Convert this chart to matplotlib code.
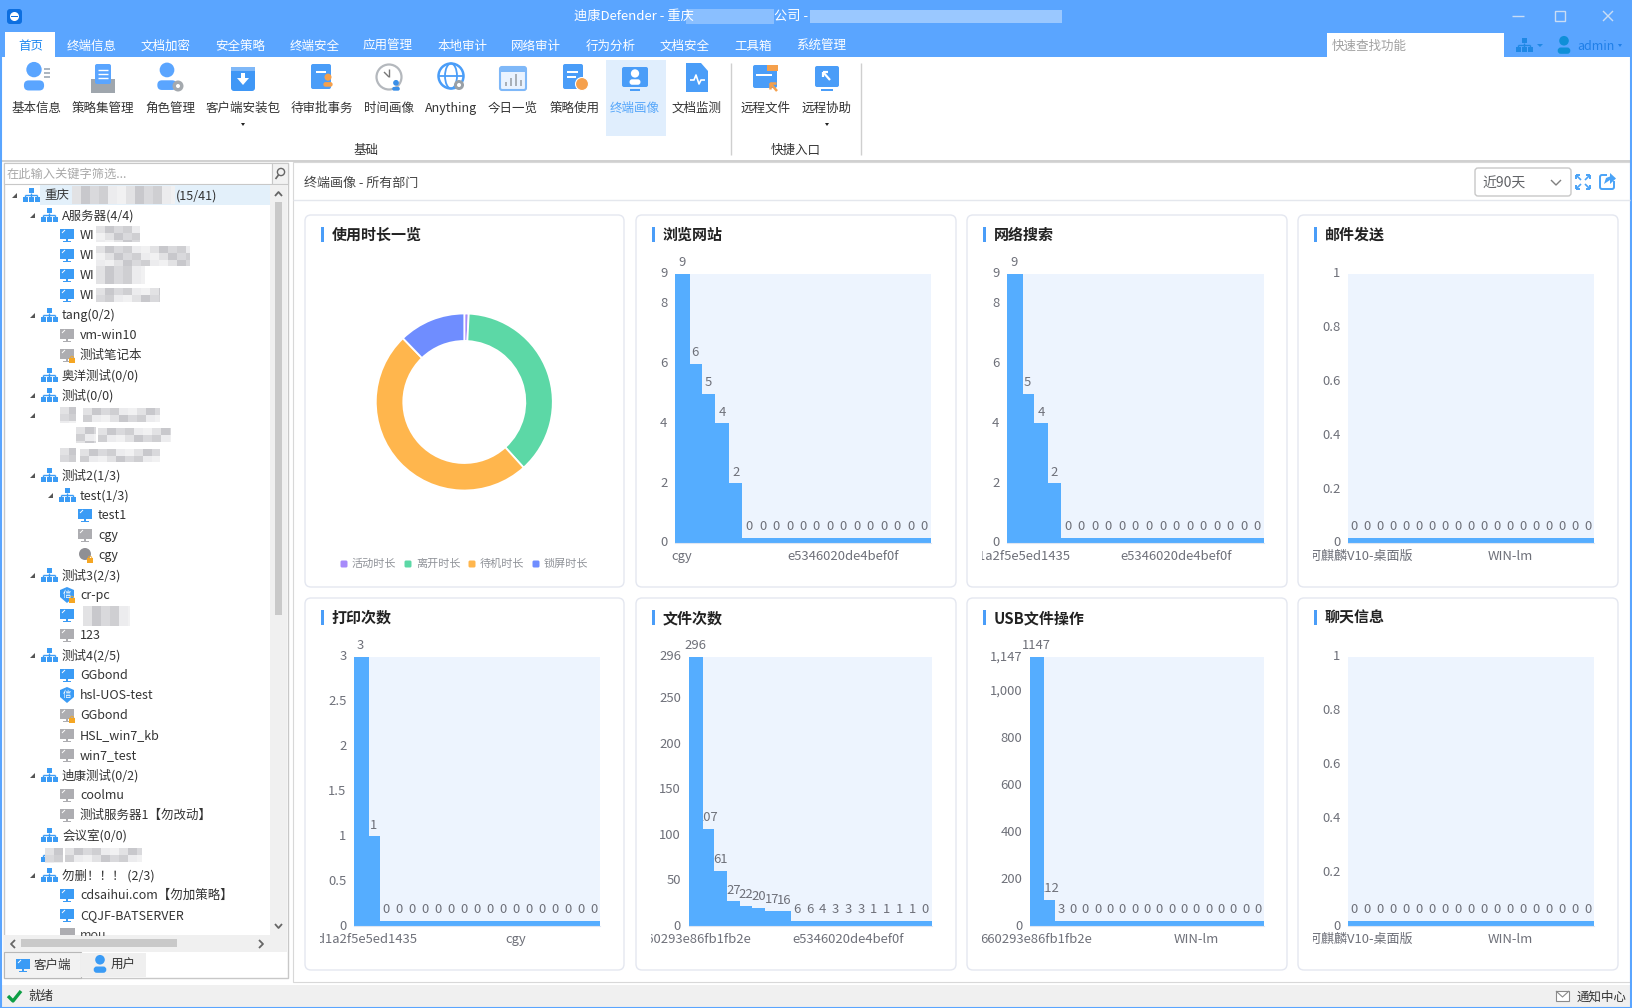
import matplotlib
matplotlib.use('Agg')
import matplotlib.pyplot as plt
import numpy as np
from matplotlib.patches import Rectangle, FancyBboxPatch, Circle, Wedge, Polygon, Ellipse
from matplotlib.transforms import Bbox, ScaledTranslation

plt.rcParams['font.family'] = ['Noto Sans CJK SC', 'DejaVu Sans']

W, H = 1632, 1008

# chart data
pie_names = ['活动时长', '离开时长', '待机时长', '锁屏时长']
pie_values = [0.8, 37.5, 49.5, 12.2]
pie_colors = ['#a78bfa', '#5cd8a6', '#ffb64d', '#6f8dff']

browse_values = [9, 6, 5, 4, 2] + [0] * 14
search_values = [9, 5, 4, 2] + [0] * 15
mail_values = [0] * 19
print_values = [3, 1] + [0] * 17
file_values = [296, 107, 61, 27, 22, 20, 17, 16, 6, 6, 4, 3, 3, 3, 1, 1, 1, 1, 0]
usb_values = [1147, 112, 3] + [0] * 16
chat_values = [0] * 19

browse_ticks = [0, 2, 4, 6, 8, 9]
print_ticks = [0, 0.5, 1, 1.5, 2, 2.5, 3]
file_ticks = [0, 50, 100, 150, 200, 250, 296]
usb_ticks = [0, 200, 400, 600, 800, 1000, 1147]
unit_ticks = [0, 0.2, 0.4, 0.6, 0.8, 1]

menu_tabs = ['首页', '终端信息', '文档加密', '安全策略', '终端安全', '应用管理', '本地审计',
             '网络审计', '行为分析', '文档安全', '工具箱', '系统管理']
tab_x = [31, 92, 166, 240, 315, 388, 462, 536, 611, 685, 753, 821]
ribbon_names = ['基本信息', '策略集管理', '角色管理', '客户端安装包', '待审批事务', '时间画像', 'Anything',
                '今日一览', '策略使用', '终端画像', '文档监测', '远程文件', '远程协助']
ribbon_x = [36, 103, 170, 243, 322, 389, 451, 513, 575, 635, 697, 766, 827]

# depth, icon, text
tree_rows = [
    (0, 'net', '重庆'), (1, 'net', 'A服务器(4/4)'), (2, 'on', 'WI'), (2, 'on', 'WI'), (2, 'on', 'WI'),
    (2, 'on', 'WI'), (1, 'net', 'tang(0/2)'), (2, 'off', 'vm-win10'), (2, 'lock', '测试笔记本'),
    (1, 'net', '奥洋测试(0/0)'), (1, 'net', '测试(0/0)'), (1, 'blur', ''), (2, 'blur', ''), (1, 'blur', ''),
    (1, 'net', '测试2(1/3)'), (2, 'net', 'test(1/3)'), (3, 'on', 'test1'), (3, 'off', 'cgy'), (3, 'droid', 'cgy'),
    (1, 'net', '测试3(2/3)'), (2, 'shieldlock', 'cr-pc'), (2, 'on', ''), (2, 'off', '123'),
    (1, 'net', '测试4(2/5)'), (2, 'on', 'GGbond'), (2, 'shield', 'hsl-UOS-test'), (2, 'lock', 'GGbond'),
    (2, 'off', 'HSL_win7_kb'), (2, 'off', 'win7_test'), (1, 'net', '迪康测试(0/2)'), (2, 'off', 'coolmu'),
    (2, 'off', '测试服务器1【勿改动】'), (1, 'net', '会议室(0/0)'), (1, 'blur', ''),
    (1, 'net', '勿删！！！ (2/3)'), (2, 'on', 'cdsaihui.com【勿加策略】'), (2, 'on', 'CQJF-BATSERVER'), (2, 'off', 'mou'),
]
has_arrow = [0, 1, 6, 10, 11, 14, 15, 19, 23, 29, 34]

BLUE = '#5aa5ff'
BAR = '#55adff'

fig = plt.figure(figsize=(W / 100, H / 100), dpi=100, facecolor='white')
bg = fig.add_axes([0, 0, 1, 1], zorder=0)
bg.set_xlim(0, W)
bg.set_ylim(H, 0)
bg.axis('off')


def rect(x0, y0, x1, y1, c, ec='none', lw=0, z=1):
    bg.add_patch(Rectangle((x0, y0), x1 - x0, y1 - y0, fc=c, ec=ec, lw=lw, zorder=z))


def rrect(x0, y0, x1, y1, c, r=2, ec='none', lw=0, z=2):
    bg.add_patch(FancyBboxPatch((x0 + r, y0 + r), x1 - x0 - 2 * r, y1 - y0 - 2 * r,
                                boxstyle='round,pad=%f,rounding_size=%f' % (r, r),
                                fc=c, ec=ec, lw=lw, zorder=z))


def line(xs, ys, c, lw=1, z=3):
    bg.plot(xs, ys, color=c, lw=lw, zorder=z, solid_capstyle='butt')


def txt(x, y, s, size=9, c='#333333', ha='left', **kw):
    return bg.text(x, y, s, fontsize=size, color=c, ha=ha, va='center', zorder=5, **kw)


def blur(x0, y0, x1, y1, z=4):
    # mosaic standing in for the pixelated names
    shades = ['#e2e2e4', '#cfcfd2', '#ececee', '#c8c8cc', '#d9d9dc', '#f1f1f2']
    i = 0
    for yy in np.arange(y0, y1, 7):
        for xx in np.arange(x0, x1, 9):
            rect(xx, yy, min(xx + 9, x1), min(yy + 7, y1), shades[i % 6], z=z)
            i += 1 if i % 4 else 3


def person(x, y, s, c):
    bg.add_patch(Circle((x, y - s * 0.35), s * 0.32, fc=c, zorder=3))
    bg.add_patch(FancyBboxPatch((x - s * 0.42, y + s * 0.1), s * 0.84, s * 0.42,
                                boxstyle='round,pad=0,rounding_size=%f' % (s * 0.2), fc=c, ec='none', zorder=3))


def net_icon(x, y, c='#3a9bf5'):
    rect(x - 2.5, y - 7, x + 2.5, y - 2, c, z=3)
    for dx in (-6, 0, 6):
        rect(x + dx - 2.5, y + 2, x + dx + 2.5, y + 7, c, z=3)
    line([x, x], [y - 2, y + 2], c)
    line([x - 6, x + 6], [y, y], c)
    line([x - 6, x - 6], [y, y + 2], c)
    line([x + 6, x + 6], [y, y + 2], c)


def monitor(x, y, c):
    rect(x - 7, y - 6, x + 7, y + 4, c, z=3)
    rect(x - 1, y + 4, x + 1, y + 6, c, z=3)
    rect(x - 4, y + 6, x + 4, y + 7, c, z=3)
    line([x - 5, x - 2], [y - 2, y - 5], 'white', 0.7, z=4)


def padlock(x, y):
    rect(x - 3, y - 1, x + 3, y + 4, '#f5a623', z=4)
    bg.add_patch(Wedge((x, y - 1), 2.2, 180, 360, width=0.8, fc='#f5a623', zorder=4))


def shield(x, y, c='#3a9bf5'):
    bg.add_patch(Polygon([[x - 7, y - 5], [x, y - 8], [x + 7, y - 5], [x + 7, y + 2], [x, y + 8], [x - 7, y + 2]],
                         fc=c, zorder=3))
    txt(x, y - 0.5, '信', 6, 'white', ha='center')


def doc(x, y, c='#5aa5ff', w=12, h=16):
    rrect(x - w, y - h, x + w, y + h - 3, c, r=2, z=3)


def chevron(xs, ys):
    line(xs, ys, '#666666', 1.3, z=5)


def draw_ribbon_icons():
    x = ribbon_x
    y = 78
    person(x[0] - 2, y, 24, '#5aa5ff')
    for dy in (-9, -5, -1):
        line([x[0] + 8, x[0] + 14], [y + dy, y + dy], '#aab4c0', 1.4)
    rect(x[1] - 12, y + 1, x[1] + 12, y + 15, '#9fa6ad', z=3)
    rrect(x[1] - 8, y - 14, x[1] + 8, y + 6, '#5aa5ff', r=2, z=3)
    for dy in (-8, -4, 0):
        line([x[1] - 5, x[1] + 5], [y + dy, y + dy], 'white', 1)
    person(x[2] - 3, y, 23, '#5aa5ff')
    bg.add_patch(Circle((x[2] + 8, y + 8), 5.5, fc='#a4a9ae', zorder=4))
    bg.add_patch(Circle((x[2] + 8, y + 8), 2, fc='white', zorder=5))
    rrect(x[3] - 12, y - 11, x[3] + 12, y + 13, '#3f97f6', r=3, z=3)
    rect(x[3] - 12, y - 11, x[3] + 12, y - 7, '#7fb8f8', z=3)
    bg.add_patch(Polygon([[x[3] - 6, y], [x[3] + 6, y], [x[3], y + 7]], fc='white', zorder=4))
    rect(x[3] - 2, y - 5, x[3] + 2, y + 1, 'white', z=4)
    doc(x[4] - 1, y, '#4a9df8', 10, 14)
    person(x[4] + 6, y + 3, 11, '#f5a04c')
    rect(x[4] - 6, y - 7, x[4] + 4, y - 5, 'white', z=4)
    bg.add_patch(Circle((x[5], y - 1), 12.5, fc='white', ec='#b4b8bd', lw=1.6, zorder=3))
    line([x[5], x[5]], [y - 9, y - 1], '#777777', 1)
    line([x[5], x[5] - 5], [y - 1, y - 6], '#777777', 1)
    person(x[5] + 7, y + 8, 9, '#3a8fe8')
    bg.add_patch(Circle((x[6], y - 2), 12.5, fc='white', ec='#4a9df8', lw=1.8, zorder=3))
    bg.add_patch(Ellipse((x[6], y - 2), 12, 25, fc='none', ec='#4a9df8', lw=1.3, zorder=3))
    line([x[6] - 12, x[6] + 12], [y - 2, y - 2], '#4a9df8', 1.3)
    bg.add_patch(Circle((x[6] + 8, y + 7), 5, fc='#9aa0a6', zorder=4))
    bg.add_patch(Circle((x[6] + 8, y + 7), 2, fc='white', zorder=5))
    rrect(x[7] - 13, y - 11, x[7] + 13, y + 12, '#eaf3ff', r=2, ec='#7fb8f8', lw=1.5, z=3)
    rect(x[7] - 13, y - 11, x[7] + 13, y - 6, '#7fb8f8', z=4)
    for dx, hh in ((-7, 4), (-2, 8), (3, 12), (8, 6)):
        rect(x[7] + dx - 1, y + 8 - hh, x[7] + dx + 1, y + 8, '#a9b0b8', z=4)
    doc(x[8] - 2, y, '#4a9df8', 10, 14)
    rect(x[8] - 8, y - 7, x[8] + 3, y - 5, 'white', z=4)
    rect(x[8] - 8, y - 2, x[8] + 1, y, 'white', z=4)
    bg.add_patch(Circle((x[8] + 7, y + 6), 6.5, fc='#f5a04c', ec='white', lw=0.8, zorder=4))
    rect(605.5, 60, 666, 136, '#e0eefd', z=2)
    rrect(x[9] - 13, y - 11, x[9] + 13, y + 9, '#4a9df8', r=2, z=3)
    rect(x[9] - 5, y + 11, x[9] + 5, y + 13, '#4a9df8', z=3)
    person(x[9], y, 13, 'white')
    bg.add_patch(Polygon([[x[10] - 11, y - 15], [x[10] + 4, y - 15], [x[10] + 11, y - 7],
                          [x[10] + 11, y + 14], [x[10] - 11, y + 14]], fc='#4a9df8', zorder=3))
    line([x[10] - 7, x[10] - 3, x[10] - 1, x[10] + 2, x[10] + 4, x[10] + 8], [y + 2, y + 2, y - 3, y + 6, y + 2, y + 2],
         'white', 1.2, z=4)
    rrect(x[11] - 13, y - 13, x[11] + 11, y + 10, '#4a9df8', r=2, z=3)
    rect(x[11] + 1, y - 13, x[11] + 12, y - 7, '#f5a04c', z=3)
    rect(x[11] - 10, y - 4, x[11] + 6, y - 2, 'white', z=4)
    line([x[11] + 4, x[11] + 11], [y + 5, y + 13], '#f5a04c', 1.8, z=4)
    line([x[11] + 4, x[11] + 10], [y + 5, y + 5], '#f5a04c', 1.8, z=4)
    line([x[11] + 4, x[11] + 4], [y + 5, y + 11], '#f5a04c', 1.8, z=4)
    rrect(x[12] - 12, y - 12, x[12] + 12, y + 9, '#4a9df8', r=2, z=3)
    rect(x[12] - 6, y + 11, x[12] + 6, y + 13, '#4a9df8', z=3)
    line([x[12] - 4, x[12] + 3], [y - 6, y + 2], 'white', 1.6, z=4)
    line([x[12] - 4, x[12] + 1], [y - 6, y - 6], 'white', 1.6, z=4)
    line([x[12] - 4, x[12] - 4], [y - 6, y - 1], 'white', 1.6, z=4)


def draw_chrome():
    # title bar and menu tabs
    rect(0, 0, W, 57, BLUE)
    rrect(7, 9, 22, 24, '#0d6fe0', r=3, z=3)
    bg.add_patch(Circle((14.5, 16.5), 4.5, fc='white', zorder=4))
    rect(11, 15.7, 18, 17.3, '#0d6fe0', z=5)
    txt(574, 16, '迪康Defender - 重庆', 9.5, 'white')
    rect(686, 9, 774, 24, '#8abfff', z=3)
    txt(774, 16, '公司 -', 9.5, 'white')
    rect(810, 10, 1062, 23, '#9ac8ff', z=3)
    line([1512, 1524], [16, 16], '#c9ddf5', 1)
    rect(1555, 11, 1565, 21, 'none', ec='#c9ddf5', lw=1, z=3)
    line([1603, 1613], [11, 21], '#c9ddf5', 1)
    line([1603, 1613], [21, 11], '#c9ddf5', 1)
    rect(5, 32, 55, 57, 'white')
    for i, name in enumerate(menu_tabs):
        txt(tab_x[i], 46.5, name, 9, '#1e88f0' if i == 0 else 'white', ha='center')
    rect(1327, 33, 1504, 57, 'white')
    txt(1332, 46, '快速查找功能', 9, '#a0a0a0')
    net_icon(1524, 45, '#1f88e5')
    bg.add_patch(Polygon([[1537, 44], [1543, 44], [1540, 47]], fc='#1f88e5', zorder=3))
    person(1564, 46, 15, '#0f8fd8')
    txt(1577, 46, 'admin', 9, '#1f7fe8')
    bg.add_patch(Polygon([[1618, 44], [1622, 44], [1620, 47]], fc='#1f7fe8', zorder=3))
    # ribbon
    draw_ribbon_icons()
    for i, name in enumerate(ribbon_names):
        txt(ribbon_x[i], 108.5, name, 9, '#55a6fa' if name == '终端画像' else '#333333', ha='center')
    for xx in (243, 827):
        bg.add_patch(Polygon([[xx - 2, 123], [xx + 2, 123], [xx, 126]], fc='#222222', zorder=3))
    for xx in (731, 861):
        line([xx, xx], [63, 155], '#cfcfcf', 1)
    txt(366, 150.5, '基础', 9, '#333333', ha='center')
    txt(795.5, 150, '快捷入口', 9, '#333333', ha='center')
    line([0, W], [161, 161], '#c8c8c8', 1.2)
    # window frame
    line([1, 1], [57, H], BLUE, 1.5)
    line([W - 1, W - 1], [57, H], BLUE, 1.5)
    line([0, W], [H - 0.5, H - 0.5], BLUE, 1.5)


def draw_tree():
    rect(4, 163, 288, 978, 'white', ec='#c8c8c8', lw=1)
    rect(4, 163, 272, 184, 'white', ec='#c8c8c8', lw=0.8, z=2)
    rect(272, 163, 288, 184, '#f2f2f2', ec='#c8c8c8', lw=0.8, z=2)
    txt(7, 174, '在此输入关键字筛选...', 8.8, '#a8a8a8')
    bg.add_patch(Circle((281, 172), 3.6, fc='none', ec='#666666', lw=1, zorder=4))
    line([278.5, 275.5], [175, 179], '#666666', 1.2, z=4)
    rect(40, 185, 270, 205, '#e3f0fa', z=2)
    rect(270, 185, 287, 935, '#f0f0f0', z=2)
    rect(275, 202, 282, 615, '#c9c9c9', z=3)
    chevron([275, 278.5, 282], [196, 192, 196])
    chevron([275, 278.5, 282], [924, 928, 924])
    for i, (depth, icon, name) in enumerate(tree_rows):
        y = 195 + i * 20
        ix = 31 + depth * 18
        tx = ix + 13
        if i in has_arrow:
            bg.add_patch(Polygon([[ix - 19, y + 3], [ix - 14, y + 3], [ix - 14, y - 2]], fc='#555555', zorder=3))
        if y > 930:
            # last row is cut by the scrollbar
            rect(ix - 7, y - 7, ix + 8, y, '#adadb1', z=3)
            t = txt(tx, y + 0.7, name, 9, '#444444')
            t.set_clip_box(Bbox([[0, H - 936], [270, H - 920]]))
            t.set_clip_on(True)
            continue
        if icon == 'net':
            net_icon(ix, y)
        elif icon == 'on':
            monitor(ix, y, '#3a9bf5')
        elif icon == 'off':
            monitor(ix, y, '#adadb1')
        elif icon == 'lock':
            monitor(ix, y, '#adadb1')
            padlock(ix + 5, y + 4)
        elif icon == 'shield':
            shield(ix, y)
        elif icon == 'shieldlock':
            shield(ix, y)
            padlock(ix + 5, y + 4)
        elif icon == 'droid':
            bg.add_patch(Circle((ix, y - 1), 6, fc='#8f8f94', zorder=3))
            padlock(ix + 5, y + 4)
        if icon == 'blur':
            if i == 33:
                net_icon(ix, y)
                blur(ix - 4, y - 7, ix - 2 + 16, y + 8, z=4)
                blur(65, y - 7, 142, y + 7)
            elif i == 11:
                blur(60, y - 8, 76, y + 8)
                blur(83, y - 7, 160, y + 7)
            elif i == 12:
                blur(76, y - 8, 96, y + 8)
                blur(98, y - 7, 171, y + 7)
            else:
                blur(60, y - 7, 76, y + 7)
                blur(80, y - 6, 160, y + 7)
            continue
        txt(tx, y + 0.7, name, 9, '#333333')
    blur(72, 186, 175, 204)
    txt(176, 195.7, '(15/41)', 9, '#333333')
    blur(96, 226, 140, 242)
    blur(96, 246, 190, 266)
    blur(96, 266, 145, 284)
    blur(96, 288, 160, 302)
    blur(83, 606, 130, 626)
    # bottom scrollbar and tabs
    rect(4, 935, 287, 952, '#f0f0f0', z=3)
    rect(21, 939, 177, 947, '#c9c9c9', z=4)
    chevron([15, 11, 15], [940, 944, 948])
    chevron([259, 263, 259], [940, 944, 948])
    rect(4, 952, 81, 978, '#f2f2f2', ec='#b8b8b8', lw=0.8, z=3)
    rect(81, 953, 146, 977, '#efefef', z=3)
    monitor(23, 965, '#3a9bf5')
    txt(34, 965.7, '客户端', 9, '#333333')
    person(100, 965, 15, '#3a9bf5')
    txt(111, 965.7, '用户', 9, '#333333')
    # status bar
    rect(2, 985, W, H, '#f0f0f0', z=2)
    line([8, 13, 21], [996, 1001, 991], '#0d9e45', 2.4)
    txt(28, 996.7, '就绪', 9, '#333333')
    rect(1556, 991, 1569, 1001, 'white', ec='#8a8a8a', lw=0.8, z=3)
    line([1556, 1562.5, 1569], [991, 997, 991], '#8a8a8a', 0.8, z=4)
    txt(1577, 996.7, '通知中心', 9, '#333333')


def draw_main_header():
    rect(293, 162, W - 2, 982, 'white', ec='#d8d8d8', lw=0.8, z=0.5)
    line([293, W - 2], [200, 200], '#e4e7ed', 1)
    txt(304, 183.5, '终端画像 - 所有部门', 9.4, '#444444')
    rrect(1475, 168, 1571, 196, 'white', r=3, ec='#c8c8c8', lw=1, z=2)
    txt(1482, 183.5, '近90天', 10, '#606266')
    line([1551, 1556, 1561], [180, 185, 180], '#808080', 1)
    for sx, sy in ((-1, -1), (1, -1), (-1, 1), (1, 1)):
        xs = 1583 + sx * 7
        ys = 182 + sy * 7
        line([xs, xs - sx * 4], [ys, ys], '#4aa3f7', 1.4)
        line([xs, xs], [ys, ys - sy * 4], '#4aa3f7', 1.4)
        line([xs - sx * 1, xs - sx * 5], [ys - sy * 1, ys - sy * 5], '#4aa3f7', 1.2)
    rrect(1600, 175, 1614, 189, 'white', r=2, ec='#4aa3f7', lw=1.4, z=3)
    rect(1607, 172, 1617, 181, 'white', z=4)
    bg.add_patch(Polygon([[1604, 184], [1606, 178], [1610, 176.5], [1610, 173], [1616, 178.5], [1610, 184], [1610, 180]],
                         fc='#4aa3f7', zorder=5))


def card(x0, y0, x1, y1, title):
    rrect(x0, y0, x1, y1, 'white', r=6, ec='#e4e7f0', lw=1, z=1)
    rect(x0 + 16, y0 + 11.5, x0 + 19, y0 + 27, '#4a9df8', z=3)
    txt(x0 + 27, y0 + 20, title, 10.8, '#222222', fontweight='bold')


def bar_chart(box, card_left, values_in, ticks, cats, ymax, second=12):
    x0, y0, x1, y1 = box
    ax = fig.add_axes([x0 / W, 1 - y1 / H, (x1 - x0) / W, (y1 - y0) / H], zorder=3)
    ax.set_facecolor('#edf4fe')
    values = np.array(values_in, dtype=float)
    idx = np.arange(len(values))
    # zero values still get a stub of about 5 px, as in the original
    heights = np.maximum(values, ymax * 5 / (y1 - y0))
    # first bar is a touch wider than the rest in the reference
    widths = np.ones(len(values))
    widths[0] = 1.15
    ax.bar(idx - 0.5, heights, width=widths, align='edge', color=BAR, linewidth=0, zorder=2)
    ax.set_xlim(-0.5, len(values) - 0.5)
    ax.set_ylim(0, ymax)
    ax.set_yticks(ticks)
    ax.set_yticklabels(['{:,}'.format(t) if t == int(t) else str(t) for t in ticks])
    ax.set_xticks([0, second])
    ax.set_xticklabels(cats)
    ax.tick_params(length=0, labelsize=9.4, labelcolor='#6e7079')
    ax.tick_params(axis='y', pad=5.5)
    ax.tick_params(axis='x', pad=5)
    up = ScaledTranslation(0, 1.5 / 100, fig.dpi_scale_trans)
    for lab in ax.get_yticklabels():
        lab.set_transform(lab.get_transform() + up)
    clip = Bbox([[card_left + 15, H - y1 - 40], [card_left + 300, H - y1]])
    for lab in ax.get_xticklabels():
        lab.set_clip_box(clip)
        lab.set_clip_on(True)
    for s in ('top', 'left', 'right'):
        ax.spines[s].set_visible(False)
    ax.spines['bottom'].set_color('#e0e6f1')
    for i, v in enumerate(values_in):
        ax.annotate(str(v), (i, heights[i]), xytext=(0, 8), textcoords='offset points', ha='center',
                    va='center', fontsize=9.4, color='#6e7079', zorder=1, annotation_clip=False)
    return ax


draw_chrome()
draw_tree()
draw_main_header()

top_row = (215, 587)
bot_row = (598, 970)
columns = [(305, 624), (636, 956), (967, 1287), (1298, 1618)]
card(columns[0][0], top_row[0], columns[0][1], top_row[1], '使用时长一览')
card(columns[1][0], top_row[0], columns[1][1], top_row[1], '浏览网站')
card(columns[2][0], top_row[0], columns[2][1], top_row[1], '网络搜索')
card(columns[3][0], top_row[0], columns[3][1], top_row[1], '邮件发送')
card(columns[0][0], bot_row[0], columns[0][1], bot_row[1], '打印次数')
card(columns[1][0], bot_row[0], columns[1][1], bot_row[1], '文件次数')
card(columns[2][0], bot_row[0], columns[2][1], bot_row[1], 'USB文件操作')
card(columns[3][0], bot_row[0], columns[3][1], bot_row[1], '聊天信息')

# donut
cx, cy, rad = 464.3, 402, 88.5
pie_ax = fig.add_axes([(cx - rad) / W, 1 - (cy + rad) / H, 2 * rad / W, 2 * rad / H], zorder=3)
pie_ax.pie(pie_values, colors=pie_colors, startangle=90, counterclock=False, radius=1,
           wedgeprops=dict(width=1 - 61 / 88.5, edgecolor='white', linewidth=1.3))
pie_ax.set_xlim(-1, 1)
pie_ax.set_ylim(-1, 1)
for mx, name, col in zip((344, 408, 472, 536), pie_names, pie_colors):
    rrect(mx - 3.5, 560.5, mx + 3.5, 567.5, col, r=1.5, z=3)
    txt(mx + 8, 564, name, 8, '#909399')

bar_chart((675, 274, 931, 543), 636, browse_values, browse_ticks, ['cgy', 'e5346020de4bef0f'], 9)
bar_chart((1007, 274, 1264, 543), 967, search_values, browse_ticks, ['c3d1a2f5e5ed1435', 'e5346020de4bef0f'], 9)
bar_chart((1348, 274, 1594, 543), 1298, mail_values, unit_ticks, ['银河麒麟V10-桌面版', 'WIN-lm'], 1)
bar_chart((354, 657, 600, 926), 305, print_values, print_ticks, ['c3d1a2f5e5ed1435', 'cgy'], 3)
bar_chart((688.5, 657, 931.5, 926), 636, file_values, file_ticks, ['660293e86fb1fb2e', 'e5346020de4bef0f'], 296)
bar_chart((1030, 657, 1264, 926), 967, usb_values, usb_ticks, ['660293e86fb1fb2e', 'WIN-lm'], 1147, second=13)
bar_chart((1348, 657, 1594, 926), 1298, chat_values, unit_ticks, ['银河麒麟V10-桌面版', 'WIN-lm'], 1)

fig.savefig('out.png', dpi=100)
